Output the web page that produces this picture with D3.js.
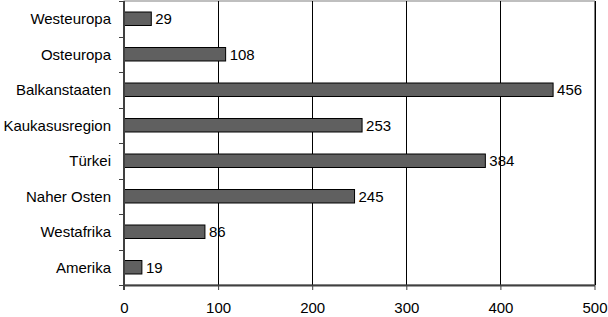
<!DOCTYPE html>
<html><head><meta charset="utf-8">
<script src="https://cdn.jsdelivr.net/npm/d3@7"></script>
<style>body{margin:0;background:#fff}svg{display:block}text{font-family:"Liberation Sans",Arial,sans-serif}</style>
</head><body>
<svg id="c" width="608" height="317"></svg>
<script>
const categories = ["Westeuropa","Osteuropa","Balkanstaaten","Kaukasusregion","Türkei","Naher Osten","Westafrika","Amerika"];
const values = [29,108,456,253,384,245,86,19];
const ticks = [0,100,200,300,400,500];

const svg = d3.select("#c");
const pL = 124, pR = 594.5, pT = 1, pB = 285;
const fs = 15;
const x = d3.scaleLinear().domain([0,500]).range([pL,pR]);
const y = d3.scaleBand().domain(categories).range([pT,pB]).paddingInner(0.62).paddingOuter(0.31);

// plot border
svg.append("rect").attr("x",pL).attr("y",pT).attr("width",pR-pL).attr("height",pB-pT)
  .attr("fill","none").attr("stroke","#808080").attr("stroke-width",1);

// gridlines
svg.append("g").selectAll("line").data(ticks.slice(1)).join("line")
  .attr("x1",d=>Math.round(x(d))+0.5).attr("x2",d=>Math.round(x(d))+0.5)
  .attr("y1",pT).attr("y2",pB).attr("stroke","#000").attr("stroke-width",1);

// bars
svg.append("g").selectAll("rect").data(values).join("rect")
  .attr("x",x(0)).attr("y",(d,i)=>y(categories[i]))
  .attr("width",d=>x(d)-x(0)).attr("height",y.bandwidth())
  .attr("fill","#606060").attr("stroke","#000").attr("stroke-width",1);

// value labels
svg.append("g").selectAll("text").data(values).join("text")
  .attr("x",d=>x(d)+4).attr("y",(d,i)=>y(categories[i])+y.bandwidth()/2)
  .attr("dy","0.36em").attr("font-size",fs).attr("fill","#000").text(d=>d);

// x axis
const xa = svg.append("g").attr("transform",`translate(0,${pB})`)
  .call(d3.axisBottom(x).tickValues(ticks).tickSize(5).tickPadding(12).tickSizeOuter(0));
xa.select(".domain").attr("stroke","#404040").attr("stroke-width",2);
xa.selectAll(".tick line").attr("stroke","#404040");
xa.selectAll("text").attr("font-size",fs).attr("fill","#000").attr("font-family","Liberation Sans, Arial, sans-serif");

// y axis
const ya = svg.append("g").attr("transform",`translate(${pL},0)`);
ya.append("line").attr("x1",0).attr("x2",0).attr("y1",pT).attr("y2",pB+5).attr("stroke","#404040").attr("stroke-width",2);
const bounds = d3.range(categories.length+1).map(i=>pT + i*(pB-pT)/categories.length);
ya.selectAll(".yt").data(bounds).join("line").attr("class","yt")
  .attr("x1",-5).attr("x2",0).attr("y1",d=>Math.round(d)+0.5).attr("y2",d=>Math.round(d)+0.5).attr("stroke","#404040");
ya.selectAll(".yl").data(categories).join("text").attr("class","yl")
  .attr("x",-13).attr("y",d=>y(d)+y.bandwidth()/2).attr("dy","0.36em")
  .attr("text-anchor","end").attr("font-size",fs).attr("fill","#000").text(d=>d);
</script>
</body></html>
